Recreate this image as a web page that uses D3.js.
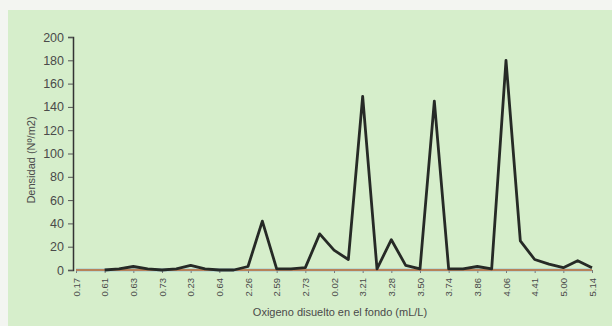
<!DOCTYPE html>
<html><head><meta charset="utf-8">
<script src="https://cdn.jsdelivr.net/npm/d3@7"></script>
<style>
html,body{margin:0;padding:0;background:#f3f5f1;}
svg{display:block;font-family:"Liberation Sans",Arial,sans-serif;}
</style></head>
<body>
<svg id="c" width="612" height="326"></svg>
<script>
const xLabels = ["0.17","","0.61","","0.63","","0.73","","0.23","","0.64","","2.26","","2.59","","2.73","","0.02","","3.21","","3.28","","3.50","","3.74","","3.86","","4.06","","4.41","","5.00","","5.14"];
const densidad = [null,null,0,1,3,1,0,1,4,1,0,0,3,42,1,1,2,31,17,9,149,1,26,4,1,145,1,1,3,1,180,25,9,5,2,8,2];
const serieNaranja = xLabels.map(() => 0);
const serieAzul = xLabels.map(() => 0);
const yTicks = [0,20,40,60,80,100,120,140,160,180,200];

const svg = d3.select("#c");
svg.append("rect").attr("x",8).attr("y",10).attr("width",604).attr("height",316).attr("fill","#d6eecb");

const idx = d3.range(xLabels.length);
const x = d3.scalePoint().domain(idx).range([76,592]);
const y = d3.scaleLinear().domain([0,200]).range([270,37]);

// y axis
const ya = svg.append("g").attr("transform","translate(73,0)")
  .call(d3.axisLeft(y).tickValues(yTicks).tickSize(5).tickPadding(4));
ya.select(".domain").attr("stroke","#333").attr("stroke-width",1.5);
ya.selectAll(".tick line").attr("stroke","#555");
ya.selectAll(".tick text").attr("fill","#4a4a4a").attr("font-size",12.5)
  .attr("font-family","Liberation Sans, Arial, sans-serif");

// x axis (ticks + labels only)
const xa = svg.append("g").attr("transform","translate(0,270)")
  .call(d3.axisBottom(x).tickValues(idx.filter(i=>i%2===0)).tickFormat(i=>xLabels[i]).tickSize(3).tickPadding(0));
xa.select(".domain").remove();
xa.selectAll(".tick line").attr("stroke","#777");
xa.selectAll(".tick text").attr("fill","#4a4a4a").attr("font-size",9.5)
  .attr("font-family","Liberation Sans, Arial, sans-serif")
  .attr("text-anchor","end").attr("dy","0.32em")
  .attr("transform","translate(0,8) rotate(-90)").attr("x",0).attr("y",0);

const line = d3.line().defined(d=>d!=null).x((d,i)=>x(i)).y(d=>y(d));

svg.append("path").datum(serieAzul).attr("d",line)
  .attr("fill","none").attr("stroke","#6a9ad6").attr("stroke-width",2.6);
svg.append("path").datum(serieNaranja).attr("d",line)
  .attr("fill","none").attr("stroke","#d27a30").attr("stroke-width",1.5);
svg.append("path").datum(densidad).attr("d",line)
  .attr("fill","none").attr("stroke","#262a26").attr("stroke-width",2.8)
  .attr("stroke-linejoin","round");

// titles
svg.append("text").attr("transform","translate(35,160) rotate(-90)")
  .attr("text-anchor","middle").attr("font-size",11).attr("fill","#4a4a4a")
  .text("Densidad (Nº/m2)");
svg.append("text").attr("x",340).attr("y",316).attr("text-anchor","middle")
  .attr("font-size",11).attr("fill","#4a4a4a")
  .text("Oxigeno disuelto en el fondo (mL/L)");
</script>
</body></html>
